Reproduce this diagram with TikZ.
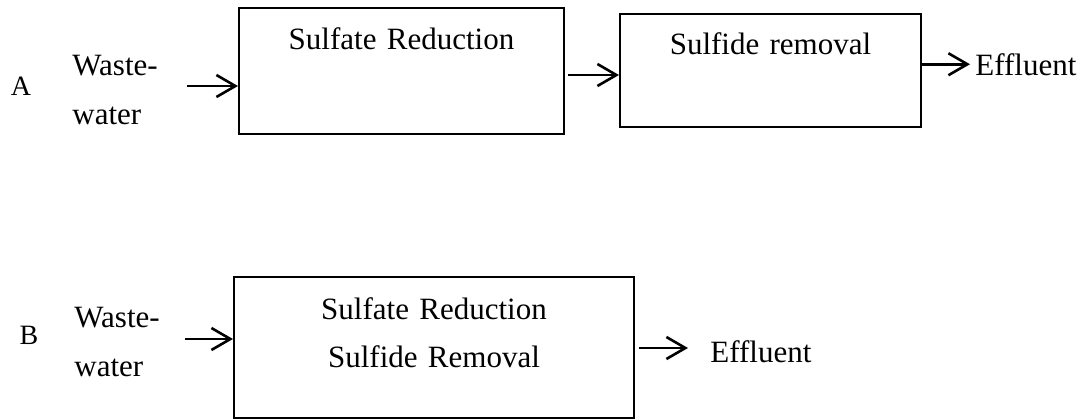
\documentclass[tikz,border=0pt]{standalone}
\usepackage{fontspec}
\setmainfont{Liberation Serif}
\usetikzlibrary{arrows.meta}

\begin{document}
\begin{tikzpicture}[x=0.5pt, y=-0.5pt,
  stage/.style={draw, line width=1pt, inner sep=0pt, anchor=north west, align=center,
                font=\fontsize{15.5}{24}\selectfont},
  feed/.style={inner sep=0pt, align=left, font=\fontsize{15.5}{24.5}\selectfont},
  tag/.style={inner sep=0pt, font=\fontsize{14}{16}\selectfont},
  arr/.style={-{Straight Barb[length=9.5pt, width=11pt]}, line width=1.3pt}]
  \useasboundingbox (0,0) rectangle (1088,419);
  % A: two reactors in series
  \node[tag] (tagA) at (21,86) {A};
  \node[feed, anchor=north west] (inA) at (72,55) {Waste-\\water};
  \node[stage, text width=162.5pt, text height=20.5pt, text depth=42.5pt] (redA) at (238,7) {Sulfate Reduction};
  \node[stage, text width=150.5pt, text height=20pt, text depth=36.5pt] (remA) at (619,13) {Sulfide removal};
  \node[feed, anchor=base west] (effA) at (975,75) {Effluent};
  \coordinate (a1) at (187,86);
  \coordinate (a2) at (568,75);
  \draw[arr] (a1) -- (a1 -| redA.west);
  \draw[arr] (a2) -- (a2 -| remA.west);
  \draw[arr] (remA.east |- effA.west) -- ([xshift=-2.5pt]effA.west);
  % B: one reactor
  \node[tag] (tagB) at (29,335) {B};
  \node[feed, anchor=north west] (inB) at (74,307) {Waste-\\water};
  \node[stage, text width=200pt, text height=21pt, text depth=49.5pt] (both) at (233,276) {Sulfate Reduction\\Sulfide Removal};
  \node[feed, anchor=base west] (effB) at (710,362) {Effluent};
  \coordinate (b1) at (185,339);
  \coordinate (b2) at (688,348);
  \draw[arr] (b1) -- (b1 -| both.west);
  \draw[arr] ([xshift=2pt]both.east |- b2) -- (b2);
\end{tikzpicture}
\end{document}
